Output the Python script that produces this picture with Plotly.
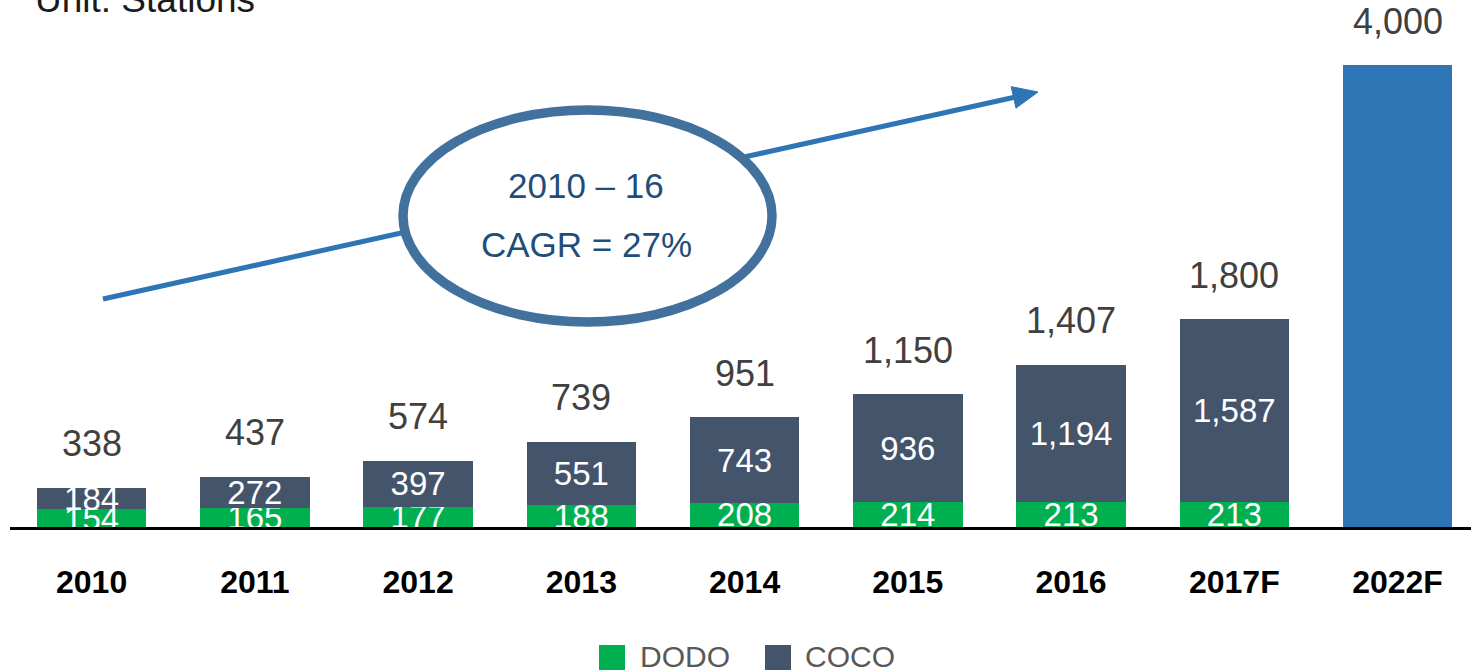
import plotly.graph_objects as go

# Service station counts by year
years = ["2010", "2011", "2012", "2013", "2014", "2015", "2016", "2017F", "2022F"]
dodo = [154, 165, 177, 188, 208, 214, 213, 213, None]
coco = [184, 272, 397, 551, 743, 936, 1194, 1587, None]
totals = [338, 437, 574, 739, 951, 1150, 1407, 1800, 4000]
forecast_total = [None] * 8 + [totals[-1]]

GREEN = "#00B050"
SLATE = "#44546A"
BLUE = "#2E75B6"
FONT = "Arial, Liberation Sans, Helvetica, sans-serif"

# page geometry (pixels)
W, H = 1471, 670
ML, MR, MT, MB = 10, 0, 0, 143
PW, PH = W - ML - MR, H - MT - MB


def px(x):
    return (x - ML) / PW


def py(y):
    return 1 - (y - MT) / PH


fig = go.Figure()

fig.add_trace(go.Bar(
    x=years, y=dodo, name="DODO", marker=dict(color=GREEN, line=dict(width=0)),
    text=[f"{v:,}" if v is not None else "" for v in dodo],
    textposition="inside", insidetextanchor="middle", textangle=0,
    constraintext="none", cliponaxis=False,
    textfont=dict(color="white", size=33, family=FONT), showlegend=False,
))
fig.add_trace(go.Bar(
    x=years, y=coco, name="COCO", marker=dict(color=SLATE, line=dict(width=0)),
    text=[f"{v:,}" if v is not None else "" for v in coco],
    textposition="inside", insidetextanchor="middle", textangle=0,
    constraintext="none", cliponaxis=False,
    textfont=dict(color="white", size=33, family=FONT), showlegend=False,
))
fig.add_trace(go.Bar(
    x=years, y=forecast_total, name="Total", marker=dict(color=BLUE, line=dict(width=0)),
    showlegend=False, cliponaxis=False,
))

annotations = []
# totals above each bar (category index positions)
for i, t in enumerate(totals):
    annotations.append(dict(
        x=i, y=t, xref="x", yref="y", text=f"{t:,}", showarrow=False,
        yanchor="middle", yshift=44,
        font=dict(size=36, color="#404040", family=FONT),
    ))

# unit note
annotations.append(dict(
    x=px(33), y=py(22), xref="paper", yref="paper", xanchor="left", yanchor="bottom",
    text="Unit: Stations", showarrow=False,
    font=dict(size=37, color="#1a1a1a", family=FONT),
))

# growth callout text
annotations.append(dict(
    x=px(586), y=py(185), xref="paper", yref="paper", text="2010 – 16",
    showarrow=False, font=dict(size=35, color="#1F4E79", family=FONT),
))
annotations.append(dict(
    x=px(586), y=py(245), xref="paper", yref="paper", text="CAGR = 27%",
    showarrow=False, font=dict(size=35, color="#1F4E79", family=FONT),
))

# legend
legend_items = [("DODO", GREEN, 599, 640), ("COCO", SLATE, 765, 805)]
shapes = []
for label, col, sx, tx in legend_items:
    shapes.append(dict(
        type="rect", xref="paper", yref="paper",
        x0=px(sx), x1=px(sx + 26), y0=py(645), y1=py(671),
        fillcolor=col, line=dict(width=0), layer="above",
    ))
    annotations.append(dict(
        x=px(tx - 2), y=py(656), xref="paper", yref="paper", xanchor="left",
        yanchor="middle", text=label, showarrow=False,
        font=dict(size=30, color="#595959", family=FONT),
    ))

# trend arrow
x_start, y_start = 103, 299
x_tip, y_tip = 1038, 92
dx, dy = x_tip - x_start, y_tip - y_start
length = (dx * dx + dy * dy) ** 0.5
ux, uy = dx / length, dy / length
nx, ny = -uy, ux
head_len, head_half = 25, 11
bx, by = x_tip - head_len * ux, y_tip - head_len * uy
shapes.append(dict(
    type="line", xref="paper", yref="paper",
    x0=px(x_start), y0=py(y_start), x1=px(bx + 2 * ux), y1=py(by + 2 * uy),
    line=dict(color=BLUE, width=5), layer="above",
))
c1 = (bx + head_half * nx, by + head_half * ny)
c2 = (bx - head_half * nx, by - head_half * ny)
shapes.append(dict(
    type="path", xref="paper", yref="paper",
    path=f"M {px(x_tip)} {py(y_tip)} L {px(c1[0])} {py(c1[1])} L {px(c2[0])} {py(c2[1])} Z",
    fillcolor=BLUE, line=dict(color=BLUE, width=1), layer="above",
))
# ellipse around the growth note
shapes.append(dict(
    type="circle", xref="paper", yref="paper",
    x0=px(403), x1=px(772), y0=py(322), y1=py(110),
    fillcolor="white", line=dict(color="#41719C", width=9.5), layer="above",
))

fig.update_layout(
    width=W, height=H,
    margin=dict(l=ML, r=MR, t=MT, b=MB),
    barmode="stack", bargap=0.33,
    plot_bgcolor="white", paper_bgcolor="white",
    showlegend=False,
    annotations=annotations, shapes=shapes,
    xaxis=dict(
        type="category",
        range=[-0.5, 8.45], showline=True, linecolor="black", linewidth=2.5,
        showgrid=False, zeroline=False, ticks="",
        tickfont=dict(size=32, color="black", family=FONT, weight="bold"),
        ticklabelstandoff=25,
    ),
    yaxis=dict(range=[0, 4563], visible=False, showgrid=False, zeroline=False),
)

fig.write_html("out.html")
